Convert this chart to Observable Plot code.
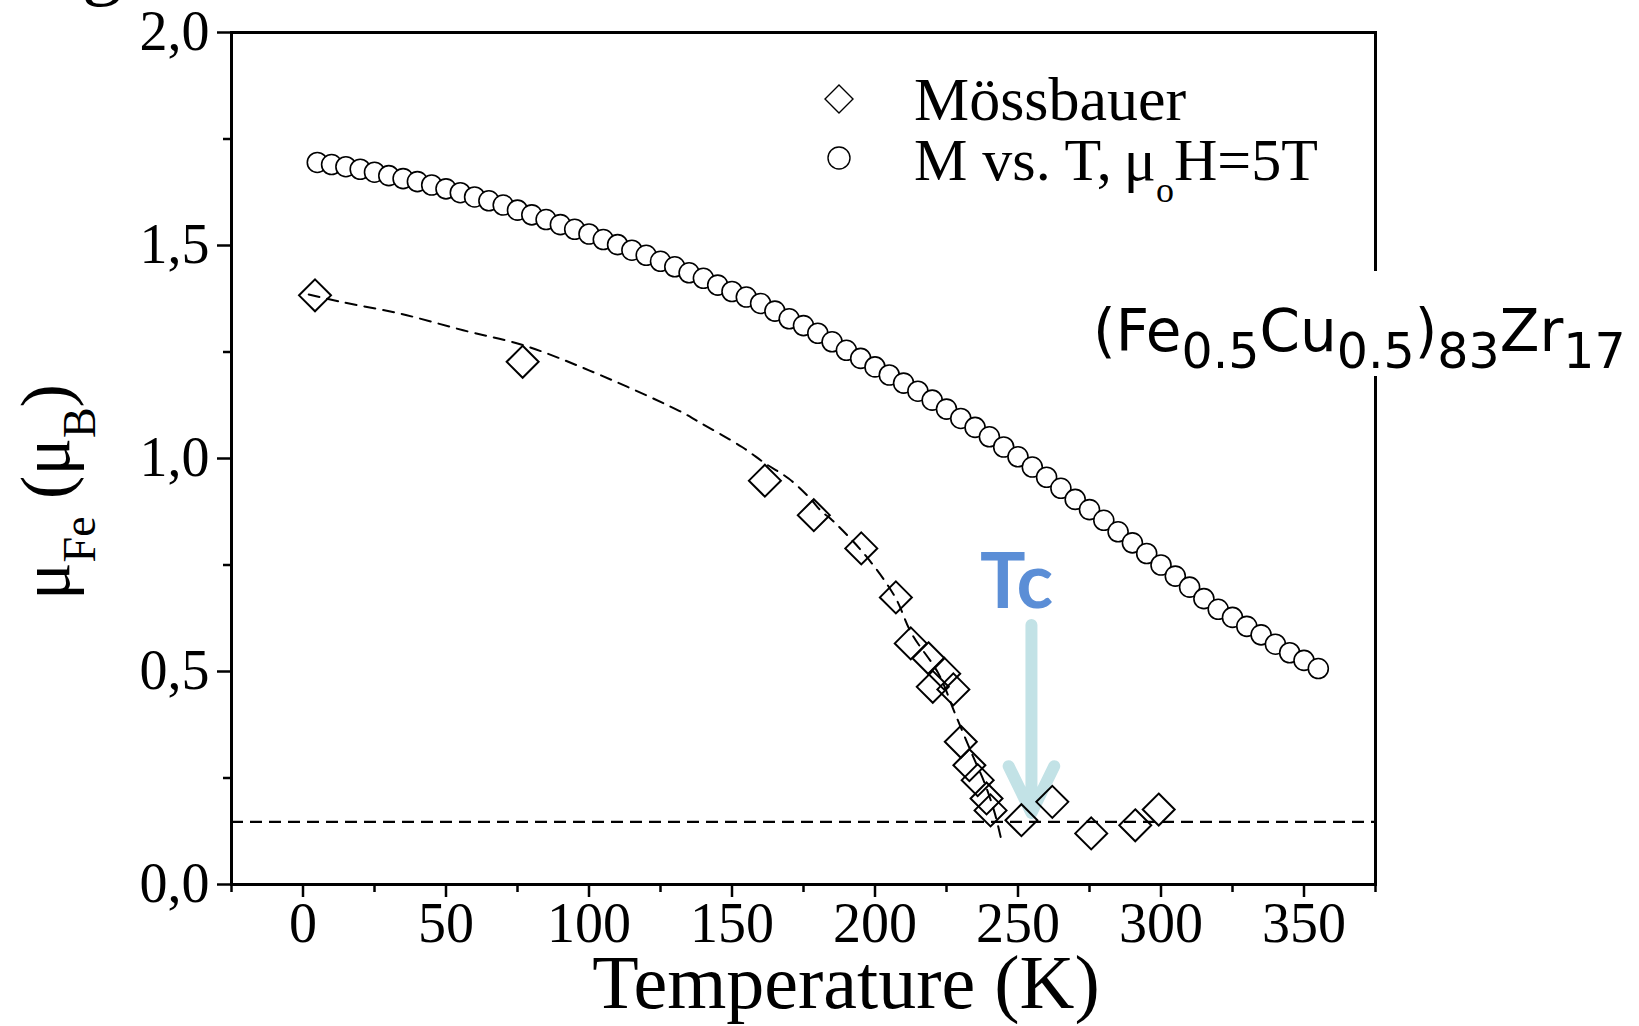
<!DOCTYPE html>
<html><head><meta charset="utf-8">
<script src="https://cdn.jsdelivr.net/npm/d3@7"></script>
<script src="https://cdn.jsdelivr.net/npm/@observablehq/plot@0.6"></script>
<style>html,body{margin:0;padding:0;background:#fff;} svg{display:block}</style>
</head><body><div id="chart"></div>
<script>
// M vs. T (muoH = 5T) : temperature (K) and moment (muB)
const mvtT = [5,10,15,20,25,30,35,40,45,50,55,60,65,70,75,80,85,90,95,100,105,110,115,120,125,130,135,140,145,150,155,160,165,170,175,180,185,190,195,200,205,210,215,220,225,230,235,240,245,250,255,260,265,270,275,280,285,290,295,300,305,310,315,320,325,330,335,340,345,350,355];
const mvtMu = [1.695,1.690,1.685,1.679,1.672,1.664,1.657,1.650,1.642,1.633,1.624,1.614,1.605,1.595,1.583,1.572,1.561,1.549,1.538,1.527,1.514,1.502,1.489,1.477,1.463,1.450,1.436,1.423,1.407,1.392,1.379,1.364,1.346,1.328,1.312,1.294,1.274,1.254,1.235,1.215,1.196,1.177,1.158,1.137,1.116,1.094,1.073,1.051,1.027,1.004,0.980,0.956,0.930,0.904,0.880,0.855,0.828,0.802,0.777,0.750,0.724,0.698,0.671,0.646,0.627,0.606,0.586,0.564,0.544,0.526,0.507];

// Mössbauer points
const mossT  = [4.2, 76.8, 161.5, 178.6, 195.2, 207.3, 212.5, 218.7, 220.2, 224.2, 227.4, 230.0, 233.0, 235.9, 239.0, 240.4, 251.2, 262.0, 275.6, 291.0, 299.2];
const mossMu = [1.383, 1.227, 0.948, 0.867, 0.789, 0.674, 0.566, 0.531, 0.464, 0.495, 0.458, 0.335, 0.280, 0.245, 0.202, 0.174, 0.151, 0.194, 0.120, 0.139, 0.176];

// dashed guide curve through the Mössbauer points
const fitT  = [2, 13, 34, 56, 77, 100, 131.5, 138.4, 153.5, 161.7, 169.8, 176.8, 181.4, 184.4, 196.6, 207.0, 212.8, 222.2, 228.0, 233.8, 238.4, 241.9, 244.2];
const fitMu = [1.385, 1.368, 1.340, 1.301, 1.266, 1.207, 1.112, 1.086, 1.027, 0.988, 0.953, 0.910, 0.875, 0.859, 0.773, 0.675, 0.589, 0.495, 0.401, 0.308, 0.237, 0.167, 0.104];

// horizontal dashed level
const levelMu = [0.147];

// Tc annotation
const tcArrow = [{T: 254.7, from: 0.609, to: 0.168}];
const tcLabel = [{T: 249.5, mu: 0.649, text: "Tc"}];

// ticks
const xMajor = [0, 50, 100, 150, 200, 250, 300, 350];
const xMinor = [-25, 25, 75, 125, 175, 225, 275, 325, 375];
const yMajor = [0, 0.5, 1.0, 1.5, 2.0];
const yMinor = [0.25, 0.75, 1.25, 1.75];

const mvt = mvtT.map((t, i) => ({T: t, mu: mvtMu[i]}));
const moss = mossT.map((t, i) => ({T: t, mu: mossMu[i]}));
const fit = fitT.map((t, i) => ({T: t, mu: fitMu[i]}));

const serif = "'Liberation Serif', 'Times New Roman', serif";
const comma = d => d3.format(".1f")(d).replace(".", ",");

const plot = Plot.plot({
  width: 1639, height: 1026,
  marginLeft: 231, marginRight: 264, marginTop: 32, marginBottom: 142,
  x: {domain: [-25, 375], label: null},
  y: {domain: [0, 2], label: null},
  style: {background: "white", color: "black", fontFamily: serif},
  marks: [
    Plot.ruleY(levelMu, {stroke: "black", strokeWidth: 2.2, strokeDasharray: "12,7"}),
    Plot.line(fit, {x: "T", y: "mu", curve: "catmull-rom", stroke: "black", strokeWidth: 2, strokeDasharray: "11,8"}),
    Plot.arrow(tcArrow, {x1: "T", x2: "T", y1: "from", y2: "to", stroke: "#c2e2e6", strokeWidth: 12, headLength: 6.5, headAngle: 52, strokeLinejoin: "round", strokeLinecap: "round"}),
    Plot.text(tcLabel, {x: "T", y: "mu", text: "text", lineAnchor: "bottom", textAnchor: "middle", fill: "#5b8ed6", fontFamily: "Lato, 'Open Sans', sans-serif", fontWeight: "bold", fontSize: 76}),
    Plot.dot(mvt, {x: "T", y: "mu", r: 10, fill: "white", stroke: "black", strokeWidth: 1.6}),
    Plot.dot(moss, {x: "T", y: "mu", symbol: "diamond2", r: 14.4, fill: "none", stroke: "black", strokeWidth: 2}),
    Plot.frame({stroke: "black", strokeWidth: 3}),
    Plot.axisY(yMajor, {tickSize: 14, tickPadding: 8, tickFormat: comma, fontSize: 56, fontFamily: serif, strokeWidth: 2.5, label: null}),
    Plot.axisY(yMinor, {tickSize: 8, fill: "none", strokeWidth: 2.5, label: null}),
    Plot.axisX(xMajor, {tickSize: 13, tickPadding: 5, tickFormat: d => String(d), fontSize: 56, fontFamily: serif, strokeWidth: 2.5, label: null}),
    Plot.axisX(xMinor, {tickSize: 8, fill: "none", strokeWidth: 2.5, label: null})
  ]
});

document.getElementById("chart").appendChild(plot);
const svg = d3.select(plot);

function rich(sel, parts, mainSize, subSize, shift) {
  let cur = 0;
  for (const [txt, sub] of parts) {
    const target = sub ? shift : 0;
    sel.append("tspan").text(txt)
      .attr("font-size", sub ? subSize : mainSize)
      .attr("dy", target - cur);
    cur = target;
  }
}

// compound label with white box over the right axis
svg.append("rect").attr("x", 1085).attr("y", 271).attr("width", 554).attr("height", 105).attr("fill", "white");
const comp = svg.append("text").attr("x", 1093).attr("y", 351).attr("text-anchor", "start")
  .attr("font-family", "'DejaVu Sans', Verdana, sans-serif").attr("fill", "black");
rich(comp, [["(Fe", 0], ["0.5", 1], ["Cu", 0], ["0.5", 1], [")", 0], ["83", 1], ["Zr", 0], ["17", 1]], 58, 49, 17);

// legend
svg.append("path").attr("d", "M839,85L853,99L839,113L825,99Z").attr("fill", "none").attr("stroke", "black").attr("stroke-width", 1.4);
svg.append("circle").attr("cx", 839).attr("cy", 158).attr("r", 11).attr("fill", "none").attr("stroke", "black").attr("stroke-width", 1.4);
svg.append("text").attr("x", 914).attr("y", 120).attr("text-anchor", "start").attr("font-family", serif).attr("font-size", 62).attr("fill", "black").text("Mössbauer");
const leg2 = svg.append("text").attr("x", 914).attr("y", 180).attr("text-anchor", "start").attr("font-family", serif).attr("fill", "black");
rich(leg2, [["M vs. T,\u2009μ", 0], ["o", 1], ["H=5T", 0]], 60, 36, 22);

// y-axis title
const yt = svg.append("text").attr("transform", "translate(69,492) rotate(-90)")
  .attr("text-anchor", "middle").attr("font-family", serif).attr("fill", "black");
rich(yt, [["μ", 0], ["Fe", 1], [" (μ", 0], ["B", 1], [")", 0]], 70, 46, 26);

// x-axis title
svg.append("text").attr("x", 846).attr("y", 1008).attr("text-anchor", "middle")
  .attr("font-family", serif).attr("font-size", 76).attr("fill", "black").text("Temperature (K)");

// fragment of a letter cut off at the top edge
svg.append("text").attr("x", 102).attr("y", -10).attr("text-anchor", "middle")
  .attr("font-family", serif).attr("font-size", 80).attr("fill", "black").text("g");
</script>
</body></html>
